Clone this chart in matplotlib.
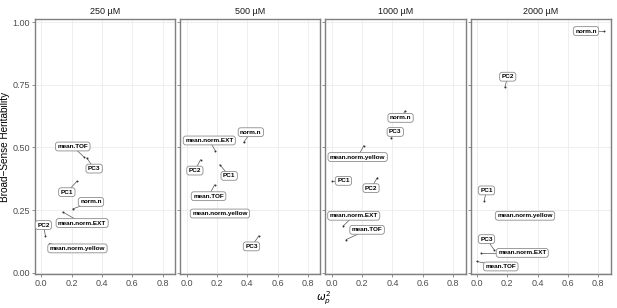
import matplotlib.pyplot as plt
import numpy as np

plt.rcParams['font.family'] = ['Liberation Sans', 'DejaVu Sans']

panels = ['250 µM', '500 µM', '1000 µM', '2000 µM']
traits = ['mean.TOF', 'PC3', 'PC1', 'norm.n', 'mean.norm.EXT', 'PC2', 'mean.norm.yellow']

# omega_p^2 and heritability per trait (same order as traits)
omega_250 = [0.278, 0.300, 0.234, 0.207, 0.141, 0.027, 0.053]
h2_250 = [0.464, 0.458, 0.365, 0.255, 0.243, 0.148, 0.117]

omega_500 = [0.185, 0.477, 0.220, 0.376, 0.189, 0.092, 0.033]
h2_500 = [0.351, 0.148, 0.431, 0.520, 0.488, 0.451, 0.239]

omega_1000 = [0.095, 0.391, 0.000, 0.485, 0.077, 0.301, 0.211]
h2_1000 = [0.133, 0.537, 0.367, 0.646, 0.188, 0.380, 0.507]

omega_2000 = [0.000, 0.113, 0.048, 0.839, 0.030, 0.184, 0.317]
h2_2000 = [0.046, 0.093, 0.288, 0.964, 0.080, 0.740, 0.228]

# label placement (repelled positions, data coords)
label_pos = [
    [(0.207, 0.504), (0.348, 0.416), (0.168, 0.322), (0.327, 0.283),
     (0.269, 0.199), (0.013, 0.191), (0.238, 0.098)],
    [(0.145, 0.306), (0.428, 0.106), (0.281, 0.387), (0.424, 0.561),
     (0.150, 0.528), (0.055, 0.408), (0.220, 0.237)],
    [(0.233, 0.172), (0.419, 0.562), (0.077, 0.367), (0.454, 0.618),
     (0.145, 0.228), (0.259, 0.338), (0.171, 0.462)],
    [(0.157, 0.026), (0.063, 0.135), (0.063, 0.329), (0.719, 0.964),
     (0.299, 0.080), (0.203, 0.782), (0.317, 0.228)],
]

omegas = [omega_250, omega_500, omega_1000, omega_2000]
h2s = [h2_250, h2_500, h2_1000, h2_2000]

fig, axes = plt.subplots(1, 4, figsize=(6.17, 3.08), dpi=100, sharey=True)
fig.subplots_adjust(left=0.0567, right=0.9898, bottom=0.1104, top=0.9367, wspace=0.036)

for i, ax in enumerate(axes):
    ax.set_xlim(-0.042, 0.882)
    ax.set_ylim(-0.004, 1.01)
    ax.set_xticks([0, 0.2, 0.4, 0.6, 0.8])
    ax.set_xticklabels(['0.0', '0.2', '0.4', '0.6', '0.8'])
    ax.set_yticks([0, 0.25, 0.5, 0.75, 1.0])
    ax.set_yticklabels(['0.00', '0.25', '0.50', '0.75', '1.00'])
    ax.grid(True, color='#ebebeb', linewidth=0.6)
    ax.set_axisbelow(True)
    for s in ax.spines.values():
        s.set_color('#7f7f7f')
        s.set_linewidth(1.0)
    ax.tick_params(colors='#7f7f7f', labelcolor='#4d4d4d', labelsize=6.5,
                   length=2, width=0.6, pad=1.5)
    ax.set_title(panels[i], fontsize=6.5, color='#1a1a1a', pad=4)

    xs = omegas[i]
    ys = h2s[i]
    for j, name in enumerate(traits):
        lx, ly = label_pos[i][j]
        ax.plot([xs[j], lx], [ys[j], ly], color='#555555', linewidth=0.5, zorder=2)
    ax.scatter(xs, ys, s=2, color='#333333', zorder=3, linewidths=0)
    for j, name in enumerate(traits):
        lx, ly = label_pos[i][j]
        ax.text(lx, ly, name, fontsize=4.6, fontweight='bold', ha='center', va='center',
                zorder=4,
                bbox=dict(boxstyle='round,pad=0.3,rounding_size=0.4', facecolor='white',
                          edgecolor='#8c8c8c', linewidth=0.6))

axes[0].set_ylabel('Broad\u2212Sense Heritability', fontsize=7.2, labelpad=2)
fig.text(0.524, 0.022, r'$\omega_p^2$', fontsize=7.5, ha='center', va='baseline')

fig.savefig('out.png', dpi=100)
